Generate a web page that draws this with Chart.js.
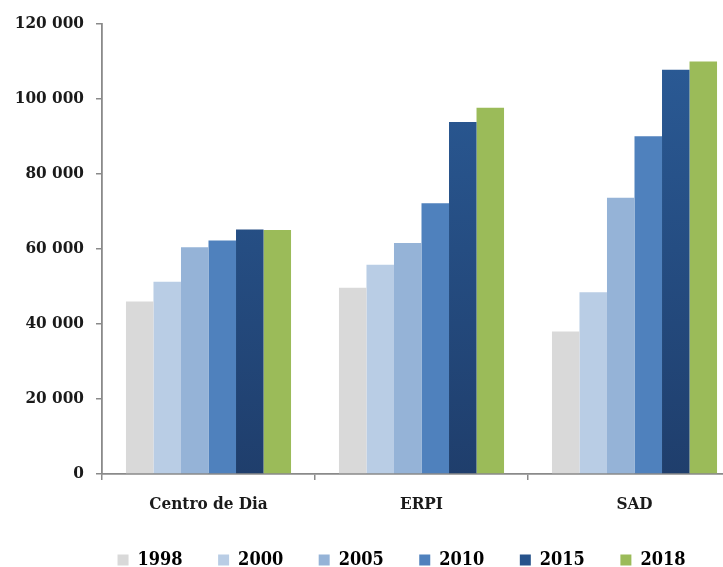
<!DOCTYPE html>
<html>
<head>
<meta charset="utf-8">
<script src="https://cdn.jsdelivr.net/npm/chart.js@4/dist/chart.umd.min.js"></script>
<style>
  html, body { margin: 0; padding: 0; background: #fff; overflow: hidden; width: 723px; height: 567px; }
  canvas { display: block; }
</style>
</head>
<body>
<canvas id="c" width="741" height="579"></canvas>
<script>
// Categories (service type)
const categories = ["Centro de Dia", "ERPI", "SAD"];

// Years shown as series
const years = ["1998", "2000", "2005", "2010", "2015", "2018"];

// Values per year, one per category
const v1998 = [46000, 49700, 38000];
const v2000 = [51300, 55800, 48500];
const v2005 = [60500, 61600, 73700];
const v2010 = [62300, 72200, 90100];
const v2015 = [65200, 93900, 107800];
const v2018 = [65100, 97700, 110000];

// Y axis ticks
const yTicks = [0, 20000, 40000, 60000, 80000, 100000, 120000];

const seriesValues = [v1998, v2000, v2005, v2010, v2015, v2018];
const seriesColors = ["#d9d9d9", "#b9cde5", "#95b3d7", "#4f81bd", "#27538b", "#9bbb59"];

function spacedThousands(v) {
  return String(v).replace(/\B(?=(\d{3})+(?!\d))/g, " ");
}

// darker blue bars fade slightly toward the base
function shadedFill(ctx, i) {
  const chart = ctx.chart;
  const area = chart.chartArea;
  if (i !== 4 || !area) return seriesColors[i];
  const g = chart.ctx.createLinearGradient(0, area.top, 0, area.bottom);
  g.addColorStop(0, "#2b5c98");
  g.addColorStop(1, "#1f3e6c");
  return g;
}

const datasets = years.map((y, i) => ({
  label: y,
  data: seriesValues[i],
  backgroundColor: (ctx) => shadedFill(ctx, i),
  borderWidth: 0,
  barPercentage: 1,
  categoryPercentage: 0.775
}));

// nudge the legend row to the right of the canvas centre
const legendShift = {
  id: "legendShift",
  afterLayout(chart) {
    const l = chart.legend;
    if (!l) return;
    l.left += 31;
    l.right += 31;
  }
};

const axisColor = "#8a8a8a";
const textColor = "#1a1a1a";
const serif = "'DejaVu Serif Condensed', 'DejaVu Serif', serif";

new Chart(document.getElementById("c"), {
  type: "bar",
  data: { labels: categories, datasets },
  plugins: [legendShift],
  options: {
    responsive: false,
    animation: false,
    devicePixelRatio: 1,
    layout: { padding: { left: 0, top: 24, right: 0, bottom: 0 } },
    plugins: {
      tooltip: { enabled: false },
      legend: {
        position: "bottom",
        labels: {
          boxWidth: 11,
          boxHeight: 11,
          padding: 35.5,
          color: textColor,
          font: { family: serif, size: 18, weight: "bold" },
          generateLabels: (chart) => chart.data.datasets.map((d, i) => ({
            text: d.label,
            fillStyle: i === 4 ? "#27538b" : seriesColors[i],
            strokeStyle: "transparent",
            lineWidth: 0,
            datasetIndex: i
          }))
        }
      }
    },
    scales: {
      x: {
        grid: {
          display: true,
          drawOnChartArea: false,
          drawTicks: true,
          tickLength: 6,
          offset: true,
          color: axisColor,
          lineWidth: 1.5
        },
        border: { color: axisColor, width: 1.8 },
        ticks: {
          color: textColor,
          padding: 14,
          font: { family: serif, size: 17, weight: "bold" }
        },
        afterFit: (s) => { s.height = 41.5; }
      },
      y: {
        min: 0,
        max: 120000,
        afterBuildTicks: (s) => { s.ticks = yTicks.map(v => ({ value: v })); },
        grid: {
          display: true,
          drawOnChartArea: false,
          drawTicks: true,
          tickLength: 6,
          color: axisColor,
          lineWidth: 1.5
        },
        border: { color: axisColor, width: 1.8 },
        ticks: {
          color: textColor,
          padding: 12,
          font: { family: serif, size: 17, weight: "bold" },
          callback: (v) => spacedThousands(v)
        },
        afterFit: (s) => { s.width = 102; }
      }
    }
  }
});
</script>
</body>
</html>
